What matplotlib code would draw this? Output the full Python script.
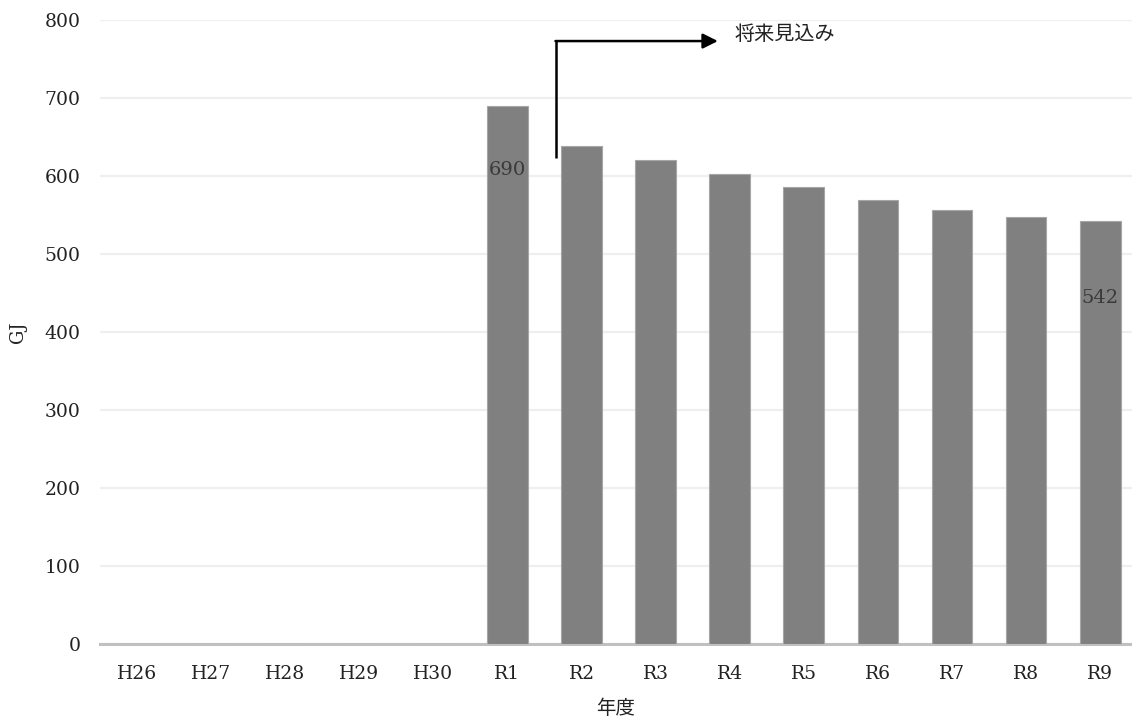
import matplotlib
matplotlib.use("Agg")
import matplotlib.pyplot as plt
import numpy as np

# 年度別エネルギー使用量（GJ）
years  = ["H26", "H27", "H28", "H29", "H30", "R1", "R2", "R3", "R4", "R5", "R6", "R7", "R8", "R9"]
values = [0, 0, 0, 0, 0, 690, 638, 621, 603, 586, 569, 556, 548, 542]
labeled = ["R1", "R9"]          # 値を表示する年度
forecast_from = "R2"            # 将来見込みの開始年度

plt.rcParams["font.family"] = ["DejaVu Serif", "Noto Sans CJK JP"]
JP = ["Noto Sans CJK JP"]

fig = plt.figure(figsize=(11.32, 7.26), dpi=100)
ax = fig.add_axes([100 / 1132, 82 / 726, 1032 / 1132, 624 / 726])

x = np.arange(len(years))
bars = ax.bar(x, values, width=0.55, color="#808080", edgecolor="#a6a6a6",
              linewidth=0.8, zorder=3)

ax.set_xlim(-0.5, 13.43)
ax.set_ylim(0, 800)
ax.set_yticks(range(0, 801, 100))
ax.set_xticks(x)
ax.set_xticklabels(years)
ax.yaxis.grid(True, color="#efefef", linewidth=1.6, zorder=0)
ax.set_axisbelow(True)

for s in ["top", "right", "left"]:
    ax.spines[s].set_visible(False)
ax.spines["bottom"].set_color("#c0c0c0")
ax.spines["bottom"].set_linewidth(2.2)
ax.tick_params(axis="both", length=0, labelsize=13.5, colors="#222222")
ax.tick_params(axis="y", pad=14)
ax.tick_params(axis="x", pad=15)

ax.set_ylabel("GJ", fontsize=13, color="#222222")
ax.yaxis.set_label_coords(-82 / 1032, 0.5)
ax.yaxis.label.set_va("center")
ax.set_xlabel("年度", fontsize=14, color="#222222", labelpad=11, family=JP)

# 数値ラベル（棒の内側）
for name in labeled:
    i = years.index(name)
    v = values[i]
    off = 82 if i < 10 else 98
    ax.text(x[i], v - off, f"{v}", ha="center", va="center",
            fontsize=14, color="#3a3a3a", zorder=4)

# 将来見込みの矢印
i0 = years.index(forecast_from)
xs = x[i0] - 0.34
ax.plot([xs, xs], [623, 773], color="black", linewidth=1.8, zorder=5,
        solid_capstyle="butt")
ax.annotate("", xy=(xs + 2.18, 773), xytext=(xs - 0.012, 773),
            arrowprops=dict(arrowstyle="-|>,head_length=0.9,head_width=0.45",
                            color="black", linewidth=1.8, shrinkA=0, shrinkB=0),
            zorder=5)
ax.text(xs + 2.4, 781, "将来見込み", ha="left", va="center", fontsize=14.5,
        color="#222222", family=JP)

fig.savefig("out.png", dpi=100)
